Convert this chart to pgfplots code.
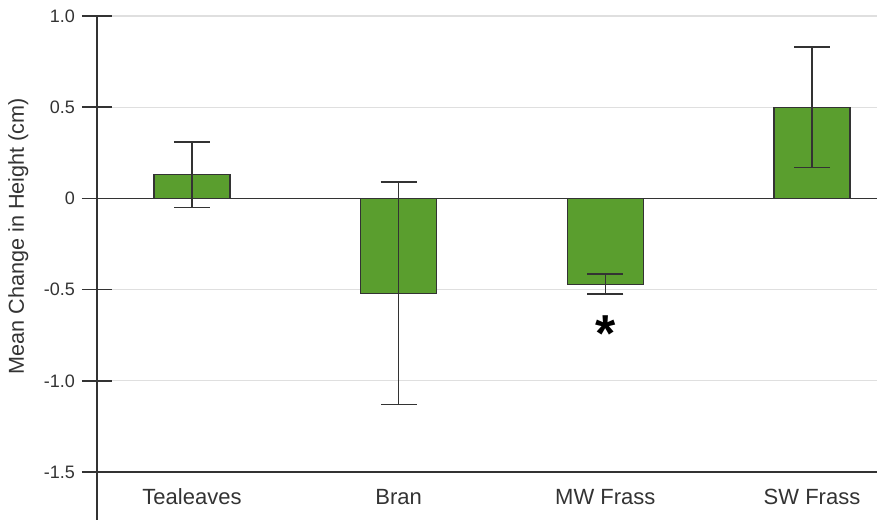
\documentclass[border=0pt]{standalone}
\usepackage{fontspec}
\setmainfont{Liberation Sans}
\usepackage{pgfplots}
\pgfplotsset{compat=1.18}
\definecolor{bargreen}{RGB}{90,158,46}
\definecolor{axisgray}{RGB}{51,51,51}
\begin{document}
\begin{tikzpicture}
\begin{axis}[
  scale only axis, width=390pt, height=252pt,
  xmin=-0.4596, xmax=3.3145, ymin=-1.763, ymax=1.0,
  axis y line=left, axis x line=bottom,
  x axis line style={draw=none},
  y axis line style={axisgray, line width=0.8pt, -},
  xtick={0,1,2,3}, xticklabels={Tealeaves,Bran,MW Frass,SW Frass},
  x tick style={draw=none},
  xticklabel style={anchor=center, yshift=19pt, font=\fontsize{11}{13}\selectfont, text=axisgray},
  ytick={-1.5,-1,-0.5,0,0.5,1}, yticklabels={-1.5,-1.0,-0.5,0,0.5,1.0},
  y tick style={axisgray, line width=0.8pt},
  tick align=center, major tick length=15pt,
  yticklabel style={font=\fontsize{9}{11}\selectfont, text=axisgray},
  ymajorgrids, grid style={gray!25, line width=0.6pt},
  extra y ticks={0,-1.5}, extra y tick labels={},
  extra y tick style={grid style={axisgray, line width=0.8pt}},
  ylabel={Mean Change in Height (cm)},
  ylabel style={at={(axis description cs:-0.101,0.563)}, anchor=center, font=\fontsize{10.8}{13}\selectfont, text=axisgray},
  clip=false,
]
\addplot[ybar, bar width=38pt, fill=bargreen, draw=axisgray, line width=0.6pt,
  error bars/.cd, y dir=both, y explicit,
  error bar style={axisgray, line width=0.8pt},
  error mark options={rotate=90, mark size=9pt, axisgray, line width=0.8pt}]
  coordinates {(0,0.13) +- (0,0.18) (1,-0.52) +- (0,0.61) (2,-0.47) +- (0,0.055) (3,0.50) +- (0,0.33)};
\node[anchor=base, font=\fontsize{26}{26}\selectfont\bfseries] at (axis cs:2,-0.84) {*};
\coordinate (bl) at (rel axis cs:0,0);
\coordinate (tr) at (rel axis cs:1,1);
\end{axis}
\pgfresetboundingbox
\path ([xshift=-48.5pt]bl) rectangle ([yshift=8pt]tr);
\end{tikzpicture}
\end{document}
